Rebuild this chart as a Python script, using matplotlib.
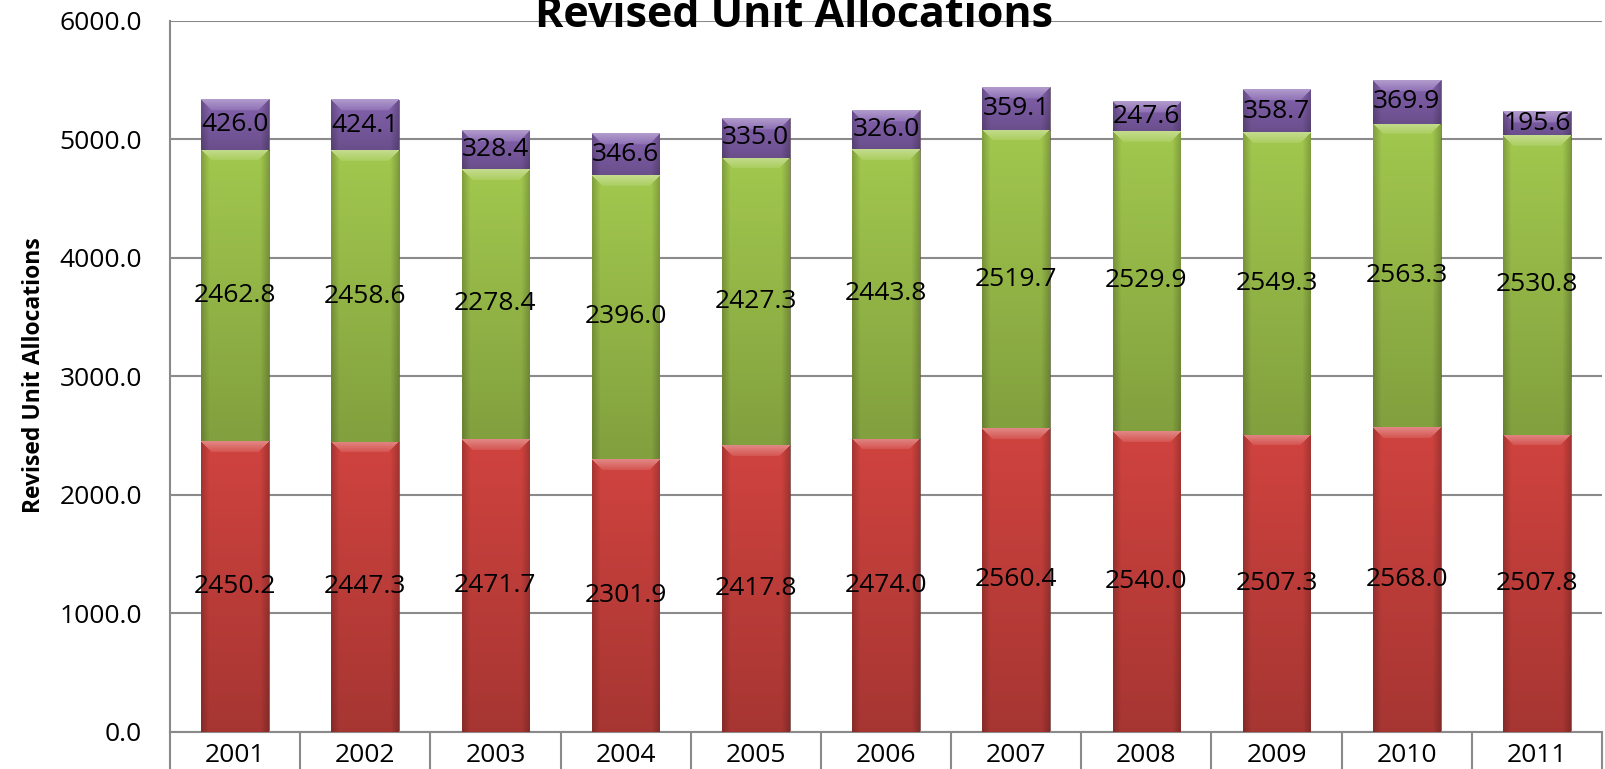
import numpy as np
import matplotlib
matplotlib.use('Agg')
import matplotlib.pyplot as plt
from matplotlib.colors import to_rgb

plt.rcParams['font.family'] = ['Open Sans', 'DejaVu Sans']

# donnees
years = ['2001', '2002', '2003', '2004', '2005', '2006',
         '2007', '2008', '2009', '2010', '2011']
red_vals = [2450.2, 2447.3, 2471.7, 2301.9, 2417.8, 2474.0,
            2560.4, 2540.0, 2507.3, 2568.0, 2507.8]
green_vals = [2462.8, 2458.6, 2278.4, 2396.0, 2427.3, 2443.8,
              2519.7, 2529.9, 2549.3, 2563.3, 2530.8]
purple_vals = [426.0, 424.1, 328.4, 346.6, 335.0, 326.0,
               359.1, 247.6, 358.7, 369.9, 195.6]
y_ticks = [0, 1000, 2000, 3000, 4000, 5000, 6000]

colors = ['#D0433F', '#A2C84E', '#8462AE']
bar_w = 0.52


def shade_patch(ax, patch, color, px_per_x, px_per_y):
    # petit effet de biseau facon Excel
    x, y = patch.get_x(), patch.get_y()
    w, h = patch.get_width(), patch.get_height()
    nx = max(int(w * px_per_x), 2)
    ny = max(int(h * px_per_y), 2)
    base = np.array(to_rgb(color))
    cols = np.arange(nx)
    rows = np.arange(ny)
    # assombrir les bords gauche/droite
    d = np.minimum(cols, nx - 1 - cols) / 8.0
    fx = 0.80 + 0.20 * np.clip(d, 0, 1)
    fy = 1.0 - 0.20 * rows / ny
    img = base[None, None, :] * fy[:, None, None] * fx[None, :, None]
    # bande claire en haut (trapeze)
    bev = 11
    for r in range(min(bev, ny)):
        c0, c1 = r, nx - r
        t = 0.28 * (1 - r / bev) + 0.08
        img[r, c0:c1, :] = base + (1 - base) * t
    img = np.clip(img, 0, 1)
    ax.imshow(img, extent=(x, x + w, y, y + h), aspect='auto',
              origin='upper', zorder=3, interpolation='bilinear')


fig = plt.figure(figsize=(16.06, 7.69), dpi=100)
ax = fig.add_axes([170 / 1606, (769 - 731.7) / 769, 1432 / 1606, 711 / 769])

x = np.arange(len(years))
red = np.array(red_vals)
green = np.array(green_vals)
purple = np.array(purple_vals)

series = [(red, np.zeros(len(years))), (green, red), (purple, red + green)]
containers = []
for (vals, bottom), c in zip(series, colors):
    bc = ax.bar(x, vals, bar_w, bottom=bottom, color=c,
                edgecolor='#4a3a3a', linewidth=0.4, zorder=2)
    containers.append((bc, c, vals))

ax.set_xlim(-0.5, len(years) - 0.5)
ax.set_ylim(0, 6000)

px_per_x = 1432 / len(years)
px_per_y = 711 / 6000
for bc, c, vals in containers:
    for p in bc.patches:
        shade_patch(ax, p, c, px_per_x, px_per_y)
    ax.bar_label(bc, labels=['%.1f' % v for v in vals], label_type='center',
                 fontsize=19, color='black', zorder=5)

ax.set_yticks(y_ticks)
ax.set_yticklabels(['%.1f' % t for t in y_ticks], fontsize=19)
ax.tick_params(axis='y', length=0, pad=20)
ax.yaxis.grid(True, color='#8a8a8a', linewidth=1.5)
ax.set_axisbelow(True)

ax.set_xticks(x)
ax.set_xticklabels(years, fontsize=19)
ax.tick_params(axis='x', length=0, pad=8)
ax.set_xticks(np.arange(len(years) + 1) - 0.5, minor=True)
ax.tick_params(axis='x', which='minor', length=45, width=1.5, color='#8a8a8a')

for s in ['top', 'right']:
    ax.spines[s].set_visible(False)
ax.spines['left'].set_color('#8a8a8a')
ax.spines['left'].set_linewidth(1.5)
ax.spines['bottom'].set_color('#8a8a8a')
ax.spines['bottom'].set_linewidth(1.5)

fig.text(794 / 1606, 1 - 27 / 769, 'Revised Unit Allocations', ha='center',
         va='baseline', fontsize=31, fontweight='bold')
fig.text(34 / 1606, 1 - 375 / 769, 'Revised Unit Allocations', ha='center',
         va='center', rotation=90, fontsize=16.5, fontweight='bold')

fig.savefig('out.png', dpi=100)
